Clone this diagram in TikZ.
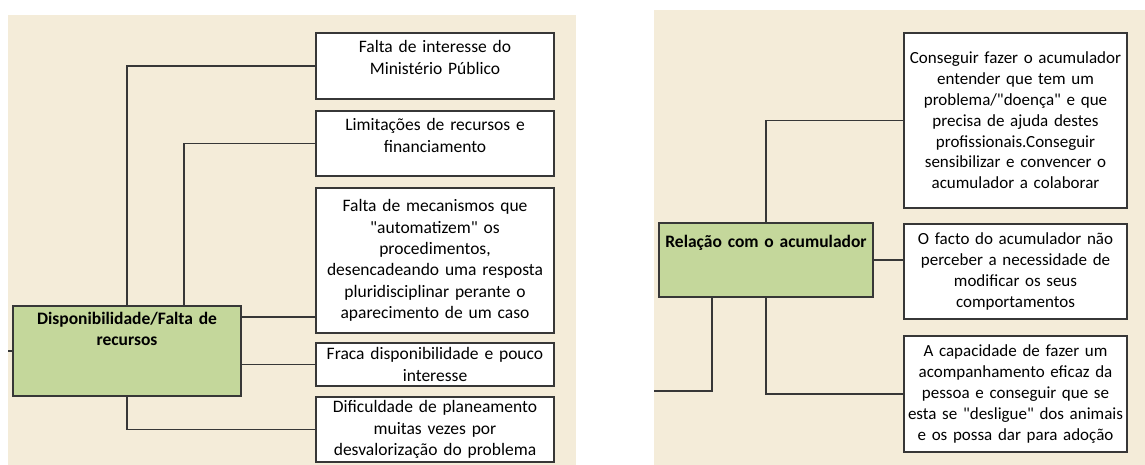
\documentclass[tikz,border=0pt]{standalone}
\usepackage{fontspec}
\setmainfont{Carlito}[Ligatures=TeXOff]
\usepackage{tikz}
\usetikzlibrary{calc,positioning}
\definecolor{panelbeige}{RGB}{244,236,217}
\definecolor{catgreen}{RGB}{196,215,155}
\definecolor{edgegray}{RGB}{55,55,55}
\tikzset{
    leaf/.style={draw=edgegray, line width=1.6pt, fill=white, align=center,
        inner sep=3pt, font=\fontsize{17.5}{21.4}\selectfont},
    cat/.style={leaf, fill=catgreen, font=\fontsize{17.5}{21.4}\selectfont\bfseries},
    link/.style={edgegray, line width=1.6pt}
}

\begin{document}
\begin{tikzpicture}[x=1pt,y=-1pt]
    \useasboundingbox (0,0) rectangle (1145,465);
    \fill[white] (0,0) rectangle (1145,465);
    \fill[panelbeige] (8,15) rectangle (576,465);
    \fill[panelbeige] (654,10) rectangle (1145,465);

    \begin{scope}[shift={(0,0)}]
        \node[cat, text width=222pt, text height=15pt, text depth=69pt] (disp) at (127,351) {Disponibilidade/Falta de\\recursos};

        \node[leaf, text width=232pt, text height=17pt, text depth=43pt] (mp) at (435,66) {Falta de interesse do\\Ministério Público};
        \node[leaf, text width=232pt, text height=17pt, text depth=42pt] (lim) at (435,143.5) {Limitações de recursos e\\financiamento};
        \node[leaf, text width=232pt, minimum height=145pt] (mec) at (435,260.5) {Falta de mecanismos que\\"automatizem" os\\procedimentos,\\desencadeando uma resposta\\pluridisciplinar perante o\\aparecimento de um caso};
        \node[leaf, text width=232pt, minimum height=43pt] (fraca) at (435,364.5) {Fraca disponibilidade e pouco\\interesse};
        \node[leaf, text width=232pt, minimum height=65pt] (plan) at (435,429.5) {Dificuldade de planeamento\\muitas vezes por\\desvalorização do problema};

        \coordinate (inL) at (8,351);
        \draw[link] (disp.west) -- (inL);
        \draw[link] (disp) |- (mp);
        \draw[link] ([xshift=57pt]disp.north) |- (lim);
        \draw[link] ([yshift=-12pt]disp.north east) -- ([yshift=-12pt]disp.north east -| mec.west);
        \draw[link] (disp.east |- fraca) -- (fraca);
        \draw[link] (disp) |- (plan);
    \end{scope}

    \begin{scope}[shift={(0,0)}, leaf/.append style={inner xsep=1pt, text width=221pt, font=\fontsize{17}{20.8}\selectfont}]
        \node[cat, text width=212pt, text height=21pt, text depth=47pt] (rel) at (766,260) {Relação com o acumulador};

        \node[leaf, minimum height=175pt] (cons) at (1015.5,120.5) {Conseguir fazer o acumulador\\entender que tem um\\problema/"doença" e que\\precisa de ajuda destes\\profissionais.Conseguir\\sensibilizar e convencer o\\acumulador a colaborar};
        \node[leaf, minimum height=95pt] (perc) at (1015.5,271.5) {O facto do acumulador não\\perceber a necessidade de\\modificar os seus\\comportamentos};
        \node[leaf, minimum height=116pt] (acomp) at (1015.5,394) {A capacidade de fazer um\\acompanhamento eficaz da\\pessoa e conseguir que se\\esta se "desligue" dos animais\\e os possa dar para adoção};

        \coordinate (outR) at (654,391);
        \draw[link] (rel) |- (cons);
        \draw[link] (rel.east) -- (rel.east -| perc.west);
        \draw[link] (rel) |- (acomp);
        \draw[link] ([xshift=-54pt]rel.south) |- (outR);
    \end{scope}
\end{tikzpicture}
\end{document}
